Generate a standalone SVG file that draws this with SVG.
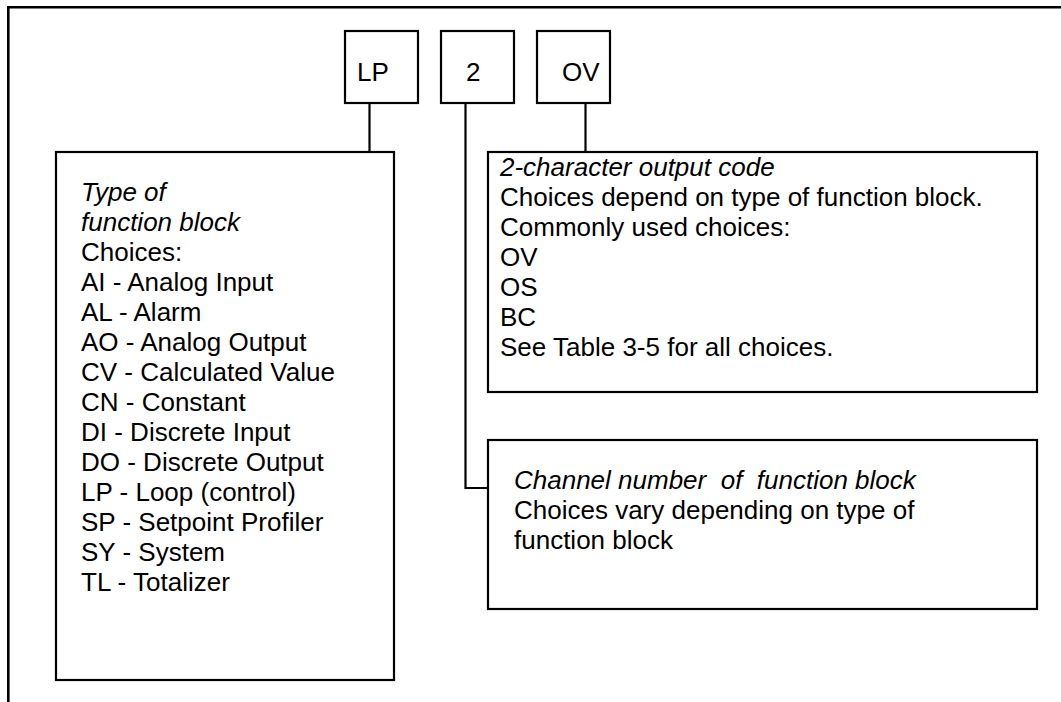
<svg xmlns="http://www.w3.org/2000/svg" width="1061" height="702" viewBox="0 0 1061 702">
<style>
.box{fill:#fff;stroke:#000;stroke-width:2.2}
.ln{fill:none;stroke:#000;stroke-width:2.2}
.frame{fill:none;stroke:#000;stroke-width:2.6}
text{font-family:"Liberation Sans",Arial,sans-serif;font-size:26px;fill:#000;white-space:pre}
.it{font-style:italic}
</style>
<rect width="1061" height="702" fill="#fff"/>
<g id="frame"><path class="frame" d="M8.3,702 V7.3 H1061"/></g>
<g id="connectors">
<path class="ln" d="M369.5,103 V152"/>
<path class="ln" d="M465.5,103 V488 H488"/>
<path class="ln" d="M585.5,103 V152"/>
</g>
<g id="node-lp"><rect class="box" x="345" y="31" width="73" height="72"/><text x="357" y="81">LP</text></g>
<g id="node-2"><rect class="box" x="441" y="31" width="73" height="72"/><text x="466" y="81">2</text></g>
<g id="node-ov"><rect class="box" x="537" y="31" width="73" height="72"/><text x="562" y="81">OV</text></g>
<g id="node-type">
<rect class="box" x="56" y="152" width="338" height="528"/>
<text x="81" y="201"><tspan class="it">Type of</tspan><tspan class="it" x="81" dy="30">function block</tspan><tspan x="81" dy="30">Choices:</tspan><tspan x="81" dy="30">AI - Analog Input</tspan><tspan x="81" dy="30">AL - Alarm</tspan><tspan x="81" dy="30">AO - Analog Output</tspan><tspan x="81" dy="30">CV - Calculated Value</tspan><tspan x="81" dy="30">CN - Constant</tspan><tspan x="81" dy="30">DI - Discrete Input</tspan><tspan x="81" dy="30">DO - Discrete Output</tspan><tspan x="81" dy="30">LP - Loop (control)</tspan><tspan x="81" dy="30">SP - Setpoint Profiler</tspan><tspan x="81" dy="30">SY - System</tspan><tspan x="81" dy="30">TL - Totalizer</tspan></text>
</g>
<g id="node-output">
<rect class="box" x="488" y="152" width="549" height="240"/>
<text x="500" y="176"><tspan class="it">2-character output code</tspan><tspan x="500" dy="30">Choices depend on type of function block.</tspan><tspan x="500" dy="30">Commonly used choices:</tspan><tspan x="500" dy="30">OV</tspan><tspan x="500" dy="30">OS</tspan><tspan x="500" dy="30">BC</tspan><tspan x="500" dy="30">See Table 3-5 for all choices.</tspan></text>
</g>
<g id="node-channel">
<rect class="box" x="488" y="440" width="549" height="169"/>
<text x="514" y="489"><tspan class="it">Channel number  of  function block</tspan><tspan x="514" dy="30">Choices vary depending on type of</tspan><tspan x="514" dy="30">function block</tspan></text>
</g>
</svg>
